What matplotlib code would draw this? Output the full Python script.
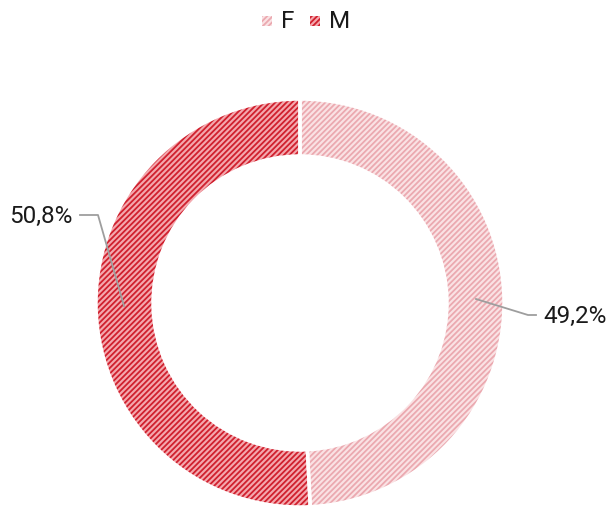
import matplotlib.pyplot as plt
import matplotlib

matplotlib.rcParams['font.family'] = ['Roboto', 'DejaVu Sans']
matplotlib.rcParams['hatch.linewidth'] = 1.3

labels = ['F', 'M']
values = [49.2, 50.8]
face_colors = ['#fae2e4', '#f4a8ae']
hatch_colors = ['#eba9b0', '#d0202e']
hatches = ['//////', '//////']

fig = plt.figure(figsize=(6.11, 5.07), dpi=100)
ax = fig.add_axes([0, 0, 1, 1])

cx, cy, r_out, width = 300, -303, 204, 57

wedges, _ = ax.pie(values, startangle=90, counterclock=False, center=(cx, cy),
                   radius=r_out, colors=face_colors,
                   wedgeprops=dict(width=width, linewidth=0))
for w, hc, h in zip(wedges, hatch_colors, hatches):
    w.set_hatch(h)
    w.set_edgecolor(hc)
ax.pie(values, startangle=90, counterclock=False, center=(cx, cy), radius=r_out,
       colors=['none', 'none'],
       wedgeprops=dict(width=width, linewidth=2.5, edgecolor='white'))

# percentage labels with leader lines
lc = '#9e9e9e'
fs = 17.5
ax.plot([476, 528, 536], [-299, -315, -315], color=lc, lw=1.3)
ax.text(543, -316, '49,2%', fontsize=fs, va='center', ha='left', color='#1a1a1a')
ax.plot([124, 98, 80], [-306, -215, -215], color=lc, lw=1.3)
ax.text(73, -216, '50,8%', fontsize=fs, va='center', ha='right', color='#1a1a1a')

# legend
for x0, lab, fc, hc, h in zip([262, 310], labels, face_colors, hatch_colors, hatches):
    sq = plt.Rectangle((x0, -26), 10, 10, facecolor=fc, edgecolor=hc, hatch=h, lw=0)
    ax.add_patch(sq)
    ax.text(x0 + 19, -21, lab, fontsize=fs, va='center', ha='left', color='#1a1a1a')

ax.set_xlim(0, 611)
ax.set_ylim(-507, 0)
ax.set_aspect('auto')
ax.axis('off')

plt.savefig('out.png', dpi=100)
